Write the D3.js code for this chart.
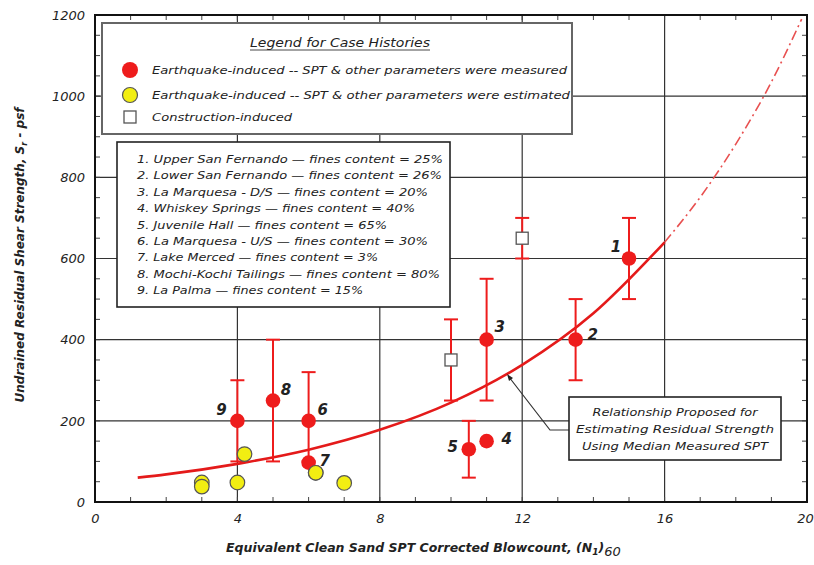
<!DOCTYPE html>
<html><head><meta charset="utf-8">
<script src="https://cdn.jsdelivr.net/npm/d3@7"></script>
<style>
html,body{margin:0;padding:0;background:#fff;}
svg{display:block;}
text{font-family:"DejaVu Sans",sans-serif;font-style:italic;fill:#222;}
</style></head>
<body>
<svg id="chart" width="814" height="565"></svg>
<script>
// ---------- data ----------
const xTicks = [0, 4, 8, 12, 16, 20];
const yTicks = [0, 200, 400, 600, 800, 1000, 1200];

// Earthquake-induced, measured (red, with error bars)
const measuredIds  = ["1", "2", "3", "4", "5", "6", "7", "8", "9"];
const measuredN    = [15, 13.5, 11, 11, 10.5, 6, 6, 5, 4];
const measuredSr   = [600, 400, 400, 150, 130, 200, 97, 250, 200];
const measuredLow  = [500, 300, 250, null, 60, 100, null, 100, 100];
const measuredHigh = [700, 500, 550, null, 200, 320, null, 400, 300];

// Earthquake-induced, estimated (yellow)
const estimatedN  = [4.2, 4, 3, 3, 6.2, 7];
const estimatedSr = [118, 48, 48, 38, 72, 47];

// Construction-induced (open squares, with error bars)
const constructionN    = [10, 12];
const constructionSr   = [350, 650];
const constructionLow  = [250, 600];
const constructionHigh = [450, 700];

// Proposed relationship (solid) and its extrapolation (dash-dot)
const curveN  = [1.2, 2, 4, 6, 8, 10, 12, 14, 16];
const curveSr = [60, 68, 94, 129, 178, 245, 338, 465, 640];
const extN    = [16, 17, 18, 19, 19.85];
const extSr   = [640, 751, 882, 1035, 1190];

const legendTitle = "Legend for Case Histories";
const legendItems = [
  "Earthquake-induced -- SPT & other parameters were measured",
  "Earthquake-induced -- SPT & other parameters were estimated",
  "Construction-induced"
];
const caseLines = [
  "1. Upper San Fernando \u2014 fines content = 25%",
  "2. Lower San Fernando \u2014 fines content = 26%",
  "3. La Marquesa - D/S \u2014 fines content = 20%",
  "4. Whiskey Springs \u2014 fines content = 40%",
  "5. Juvenile Hall \u2014 fines content = 65%",
  "6. La Marquesa - U/S \u2014 fines content = 30%",
  "7. Lake Merced \u2014 fines content = 3%",
  "8. Mochi-Kochi Tailings \u2014 fines content = 80%",
  "9. La Palma \u2014 fines content = 15%"
];
const noteLines = [
  "Relationship Proposed for",
  "Estimating Residual Strength",
  "Using Median Measured SPT"
];

// ---------- layout / style ----------
const W = 814, H = 565;
const plot = {left: 95, right: 807, top: 15, bottom: 502};
const RED = "#ee1c1c", YEL = "#f2ee12";
const labelOffset = {"1":[-13,-12],"2":[17,-5],"3":[13,-13],"4":[20,-2],"5":[-16,-2],
                     "6":[14,-11],"7":[16,-2],"8":[13,-11],"9":[-16,-11]};
const caseLineEnds = [443, 442, 428, 415, 387, 428, 378, 440, 363];

const svg = d3.select("#chart");
svg.append("rect").attr("width", W).attr("height", H).attr("fill", "#fff");

const x = d3.scaleLinear().domain([0, 20]).range([plot.left, plot.right]);
const y = d3.scaleLinear().domain([0, 1200]).range([plot.bottom, plot.top]);

// gridlines
const g = svg.append("g");
g.selectAll("line.gx").data(xTicks.slice(1, -1)).join("line")
  .attr("x1", d => x(d)).attr("x2", d => x(d))
  .attr("y1", plot.top).attr("y2", plot.bottom)
  .attr("stroke", "#333").attr("stroke-width", 1.2);
g.selectAll("line.gy").data(yTicks.slice(1, -1)).join("line")
  .attr("y1", d => y(d)).attr("y2", d => y(d))
  .attr("x1", plot.left).attr("x2", plot.right)
  .attr("stroke", "#333").attr("stroke-width", 1.2);

// minor inward ticks on all four sides
const xMinor = d3.range(1, 20);
const yMinor = d3.range(50, 1200, 50);
const tickG = svg.append("g").attr("stroke", "#444").attr("stroke-width", 1);
tickG.selectAll("line.xb").data(xMinor).join("line")
  .attr("x1", d => x(d)).attr("x2", d => x(d)).attr("y1", plot.bottom).attr("y2", plot.bottom - 5);
tickG.selectAll("line.xt").data(xMinor).join("line")
  .attr("x1", d => x(d)).attr("x2", d => x(d)).attr("y1", plot.top).attr("y2", plot.top + 5);
tickG.selectAll("line.yl").data(yMinor).join("line")
  .attr("y1", d => y(d)).attr("y2", d => y(d)).attr("x1", plot.left).attr("x2", plot.left + 5);
tickG.selectAll("line.yr").data(yMinor).join("line")
  .attr("y1", d => y(d)).attr("y2", d => y(d)).attr("x1", plot.right).attr("x2", plot.right - 5);

// axes (labels)
const xAxis = d3.axisBottom(x).tickValues(xTicks).tickFormat(d3.format("d")).tickSize(0).tickPadding(12);
const yAxis = d3.axisLeft(y).tickValues(yTicks).tickFormat(d3.format("d")).tickSize(0).tickPadding(8);
const xa = svg.append("g").attr("transform", `translate(0,${plot.bottom})`).call(xAxis);
const ya = svg.append("g").attr("transform", `translate(${plot.left},0)`).call(yAxis);
[xa, ya].forEach(a => {
  a.select(".domain").remove();
  a.selectAll("text").style("font-family", "DejaVu Sans, sans-serif")
    .style("font-style", "italic").style("font-size", "13px").attr("fill", "#333");
});
ya.selectAll("text").attr("dx", "-2");
xa.selectAll("text").filter(d => d === 20).attr("dx", "-2");

// legend box 1
const lg = svg.append("g");
lg.append("rect").attr("x", 102).attr("y", 23).attr("width", 470).attr("height", 111)
  .attr("fill", "#fff").attr("stroke", "#666").attr("stroke-width", 2);
lg.append("text").attr("x", 340).attr("y", 47).attr("text-anchor", "middle")
  .style("font-size", "11.5px").attr("fill", "#111")
  .attr("textLength", 180).attr("lengthAdjust", "spacingAndGlyphs").text(legendTitle);
lg.append("line").attr("x1", 250).attr("x2", 430).attr("y1", 50).attr("y2", 50).attr("stroke", "#333").attr("stroke-width", 0.9);
const legY = [70, 95, 117];
lg.append("circle").attr("cx", 130).attr("cy", legY[0]).attr("r", 8).attr("fill", RED);
lg.append("circle").attr("cx", 130).attr("cy", legY[1]).attr("r", 7.5).attr("fill", YEL).attr("stroke", "#555").attr("stroke-width", 1.2);
lg.append("rect").attr("x", 124).attr("y", legY[2] - 6).attr("width", 12).attr("height", 12)
  .attr("fill", "#fff").attr("stroke", "#555").attr("stroke-width", 1.3);
const legLens = [415, 418, 140];
legendItems.forEach((t, i) => {
  lg.append("text").attr("x", 152).attr("y", legY[i] + 4).style("font-size", "10.5px").attr("fill", "#111")
    .attr("textLength", legLens[i]).attr("lengthAdjust", "spacingAndGlyphs").text(t);
});

// legend box 2
const cb = svg.append("g");
cb.append("rect").attr("x", 117).attr("y", 142).attr("width", 333).attr("height", 165)
  .attr("fill", "#fff").attr("stroke", "#222").attr("stroke-width", 1.6);
caseLines.forEach((t, i) => {
  cb.append("text").attr("x", 137).attr("y", 163 + i * 16.4).style("font-size", "10.5px").attr("fill", "#111")
    .attr("textLength", caseLineEnds[i] - 137).attr("lengthAdjust", "spacingAndGlyphs").text(t);
});

// curve
const line = d3.line().x(d => x(d[0])).y(d => y(d[1])).curve(d3.curveMonotoneX);
svg.append("path").datum(extN.map((n, i) => [n, extSr[i]])).attr("d", line)
  .attr("fill", "none").attr("stroke", "#e85050").attr("stroke-width", 1.6)
  .attr("stroke-dasharray", "10,4,2,4");
svg.append("path").datum(curveN.map((n, i) => [n, curveSr[i]])).attr("d", line)
  .attr("fill", "none").attr("stroke", "#e41a1a").attr("stroke-width", 2.6);

// annotation with leader
const an = svg.append("g");
an.append("path").attr("d", `M569,430 L550,430 L509,377`)
  .attr("fill", "none").attr("stroke", "#333").attr("stroke-width", 1.2);
an.append("path").attr("d", "M507,374 L513,378 L509,381 Z").attr("fill", "#222");
an.append("rect").attr("x", 569).attr("y", 397).attr("width", 212).attr("height", 63)
  .attr("fill", "#fff").attr("stroke", "#222").attr("stroke-width", 1.6);
const noteLens = [165, 198, 186];
noteLines.forEach((t, i) => {
  an.append("text").attr("x", 675).attr("y", 416 + i * 17).attr("text-anchor", "middle").attr("fill", "#111")
    .style("font-size", "10.5px").attr("textLength", noteLens[i]).attr("lengthAdjust", "spacingAndGlyphs").text(t);
});

// error bars
function errorBars(sel, ns, lows, highs) {
  const idx = ns.map((n, i) => i).filter(i => lows[i] != null);
  const eg = sel.append("g").attr("stroke", RED).attr("stroke-width", 2);
  eg.selectAll("line.v").data(idx).join("line")
    .attr("x1", i => x(ns[i])).attr("x2", i => x(ns[i]))
    .attr("y1", i => y(lows[i])).attr("y2", i => y(highs[i]));
  eg.selectAll("line.t").data(idx).join("line")
    .attr("x1", i => x(ns[i]) - 7).attr("x2", i => x(ns[i]) + 7)
    .attr("y1", i => y(highs[i])).attr("y2", i => y(highs[i]));
  eg.selectAll("line.b").data(idx).join("line")
    .attr("x1", i => x(ns[i]) - 7).attr("x2", i => x(ns[i]) + 7)
    .attr("y1", i => y(lows[i])).attr("y2", i => y(lows[i]));
}
const marks = svg.append("g");
errorBars(marks, constructionN, constructionLow, constructionHigh);
errorBars(marks, measuredN, measuredLow, measuredHigh);

// construction squares
marks.selectAll("rect.c").data(constructionN).join("rect")
  .attr("x", (d) => x(d) - 6).attr("y", (d, i) => y(constructionSr[i]) - 6)
  .attr("width", 12).attr("height", 12)
  .attr("fill", "#fff").attr("stroke", "#555").attr("stroke-width", 1.3);

// estimated yellow
marks.selectAll("circle.e").data(estimatedN).join("circle")
  .attr("cx", d => x(d)).attr("cy", (d, i) => y(estimatedSr[i])).attr("r", 7.3)
  .attr("fill", YEL).attr("stroke", "#555").attr("stroke-width", 1.2);

// measured red
marks.selectAll("circle.m").data(measuredN).join("circle")
  .attr("cx", d => x(d)).attr("cy", (d, i) => y(measuredSr[i])).attr("r", 7.3)
  .attr("fill", RED);
// yellow at 6.2 sits over red 7 as in reference
marks.append("circle").attr("cx", x(estimatedN[4])).attr("cy", y(estimatedSr[4])).attr("r", 7.3)
  .attr("fill", YEL).attr("stroke", "#555").attr("stroke-width", 1.2);

// case labels
marks.selectAll("text.id").data(measuredIds).join("text")
  .attr("x", (d, i) => x(measuredN[i]) + labelOffset[d][0])
  .attr("y", (d, i) => y(measuredSr[i]) + labelOffset[d][1] + 5)
  .attr("text-anchor", "middle").style("font-size", "15px").style("font-weight", "bold")
  .attr("fill", "#333").text(d => d);

// frame
svg.append("rect").attr("x", plot.left).attr("y", plot.top)
  .attr("width", plot.right - plot.left).attr("height", plot.bottom - plot.top)
  .attr("fill", "none").attr("stroke", "#111").attr("stroke-width", 2);

// axis titles
const xt = svg.append("text").attr("x", 226).attr("y", 552).style("font-size", "12.5px").style("font-weight", "bold")
  .attr("fill", "#333");
xt.append("tspan").text("Equivalent Clean Sand SPT Corrected Blowcount, (N");
xt.append("tspan").attr("dy", 3).style("font-size", "9px").text("1");
xt.append("tspan").attr("dy", -3).text(")");
xt.append("tspan").attr("dy", 4).style("font-size", "13px").style("font-weight", "normal").text("60");

const yt = svg.append("text").attr("transform", "translate(24,255) rotate(-90)")
  .attr("text-anchor", "middle").style("font-size", "12px").style("font-weight", "bold").attr("fill", "#333");
yt.append("tspan").text("Undrained Residual Shear Strength, S");
yt.append("tspan").attr("dy", 3).style("font-size", "8px").text("r");
yt.append("tspan").attr("dy", -3).text(" - psf");
</script>
</body></html>
